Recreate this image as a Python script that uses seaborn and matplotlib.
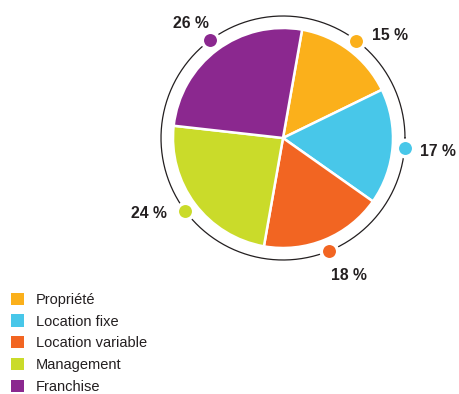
import numpy as np
import matplotlib
matplotlib.use("Agg")
import matplotlib.pyplot as plt
import seaborn as sns

# Share of hotel rooms by operating model
categories = ["Propriété", "Location fixe", "Location variable", "Management", "Franchise"]
shares = [15, 17, 18, 24, 26]
colors = ["#FBB01B", "#48C7E9", "#F26522", "#CADB2A", "#8B288F"]

sns.set_theme(style="white")
plt.rcParams["font.family"] = ["Liberation Sans Narrow", "Liberation Sans", "DejaVu Sans"]

W, H = 459, 394
fig = plt.figure(figsize=(W / 100, H / 100), dpi=100)
ax = fig.add_axes([0, 0, 1, 1])

cx, cy = 283, H - 138
R = 110
ring_r = 122
start = 80  # degrees, counter-clockwise from east

wedges, _ = ax.pie(shares, colors=colors, startangle=start, counterclock=False,
                   radius=R, center=(cx, cy), frame=True,
                   wedgeprops=dict(edgecolor="white", linewidth=1.8))
ax.set_xlim(0, W)
ax.set_ylim(0, H)
ax.set_aspect("equal")
ax.axis("off")

# Outer ring
theta = np.linspace(0, 2 * np.pi, 400)
ax.plot(cx + ring_r * np.cos(theta), cy + ring_r * np.sin(theta), color="#231F20", lw=0.9, zorder=3)

# Dots on the ring at each wedge's mid-angle, with value labels
label_offsets = [(24, 4), (24, -3), (14, -18), (-26, -2), (-14, 12)]
cum = np.cumsum([0] + shares[:-1])
for val, c0, col, off in zip(shares, cum, colors, label_offsets):
    mid = np.deg2rad(start - 360 * (c0 + val / 2) / sum(shares))
    px, py = cx + ring_r * np.cos(mid), cy + ring_r * np.sin(mid)
    ax.scatter([px], [py], s=140, color=col, edgecolor="white", linewidth=2.5, zorder=4)
    ax.annotate(f"{val} %", (px, py), xytext=off, textcoords="offset points",
                ha="center", va="center", fontsize=11.3, fontweight="bold",
                color="#231F20", family=["Liberation Sans", "DejaVu Sans"])

leg = ax.legend(wedges, categories, loc="upper left", bbox_to_anchor=(0.0115, 0.272),
                frameon=False, fontsize=10.5, handlelength=0.9, handleheight=0.9,
                handletextpad=0.8, labelspacing=0.53, borderaxespad=0)
for t in leg.get_texts():
    t.set_color("#231F20")
for h in leg.legend_handles:
    h.set_edgecolor("none")

fig.savefig("out.png", dpi=100, facecolor="white")
